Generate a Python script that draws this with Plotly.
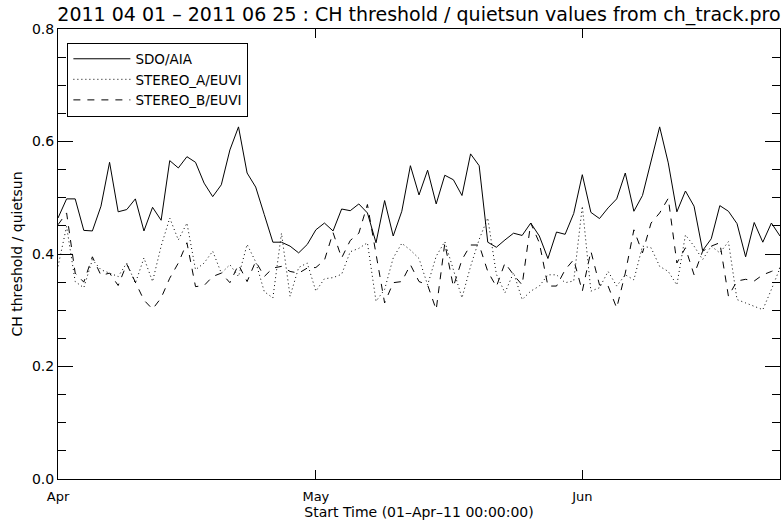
import pandas as pd
import plotly.graph_objects as go

start_date = "2011-04-01"
n_days = 85

sdo_aia = [0.464, 0.498, 0.498, 0.442, 0.441, 0.485, 0.563, 0.475, 0.479, 0.498,
           0.441, 0.483, 0.460, 0.566, 0.553, 0.573, 0.563, 0.526, 0.502, 0.523,
           0.585, 0.626, 0.544, 0.519, 0.470, 0.421, 0.421, 0.414, 0.402, 0.417,
           0.443, 0.455, 0.441, 0.480, 0.477, 0.489, 0.473, 0.420, 0.495, 0.432,
           0.476, 0.557, 0.505, 0.549, 0.489, 0.540, 0.532, 0.504, 0.578, 0.557,
           0.421, 0.412, 0.425, 0.437, 0.433, 0.455, 0.432, 0.392, 0.439, 0.435,
           0.472, 0.541, 0.474, 0.463, 0.482, 0.498, 0.544, 0.476, 0.504, 0.564,
           0.626, 0.562, 0.475, 0.512, 0.485, 0.406, 0.427, 0.486, 0.476, 0.454,
           0.395, 0.456, 0.421, 0.455, 0.432]

stereo_a = [0.378, 0.449, 0.351, 0.340, 0.390, 0.372, 0.366, 0.360, 0.384, 0.348,
            0.393, 0.351, 0.414, 0.464, 0.425, 0.455, 0.372, 0.384, 0.405, 0.366,
            0.381, 0.360, 0.417, 0.386, 0.333, 0.322, 0.437, 0.325, 0.376, 0.384,
            0.334, 0.356, 0.358, 0.364, 0.404, 0.410, 0.420, 0.316, 0.337, 0.393,
            0.419, 0.407, 0.392, 0.345, 0.396, 0.422, 0.372, 0.322, 0.378, 0.426,
            0.464, 0.364, 0.331, 0.367, 0.319, 0.334, 0.343, 0.363, 0.363, 0.349,
            0.352, 0.485, 0.334, 0.340, 0.369, 0.343, 0.363, 0.354, 0.414, 0.411,
            0.378, 0.369, 0.345, 0.434, 0.414, 0.390, 0.414, 0.402, 0.422, 0.319,
            0.313, 0.307, 0.301, 0.337, 0.375]

stereo_b = [0.452, 0.473, 0.366, 0.350, 0.395, 0.362, 0.366, 0.344, 0.382, 0.351,
            0.318, 0.302, 0.322, 0.357, 0.384, 0.420, 0.342, 0.344, 0.360, 0.366,
            0.349, 0.381, 0.351, 0.387, 0.360, 0.375, 0.378, 0.369, 0.366, 0.375,
            0.376, 0.389, 0.438, 0.393, 0.424, 0.437, 0.488, 0.400, 0.313, 0.349,
            0.351, 0.381, 0.351, 0.345, 0.301, 0.419, 0.342, 0.390, 0.416, 0.416,
            0.369, 0.342, 0.384, 0.363, 0.345, 0.455, 0.420, 0.343, 0.343, 0.372,
            0.390, 0.334, 0.405, 0.345, 0.343, 0.304, 0.366, 0.443, 0.402, 0.455,
            0.473, 0.499, 0.384, 0.411, 0.363, 0.405, 0.414, 0.420, 0.325, 0.352,
            0.355, 0.352, 0.363, 0.369, 0.375]

series_names = ["SDO/AIA", "STEREO_A/EUVI", "STEREO_B/EUVI"]
month_ticks = ["2011-04-01", "2011-05-01", "2011-06-01"]
month_labels = ["Apr", "May", "Jun"]
x_range = ["2011-04-01", "2011-06-24"]

dates = pd.date_range(start_date, periods=n_days, freq="D")

FONT = "DejaVu Sans"
fig = go.Figure()
styles = ["solid", "1px,3px", "7px,7px"]
for name, vals, dash in zip(series_names, [sdo_aia, stereo_a, stereo_b], styles):
    fig.add_trace(go.Scatter(x=dates, y=vals, mode="lines", name=name,
                             line=dict(color="black", width=1, dash=dash)))

fig.update_layout(
    width=782, height=521,
    margin=dict(l=58, r=2, t=29, b=42, autoexpand=False),
    paper_bgcolor="white", plot_bgcolor="white",
    font=dict(family=FONT, size=14, color="black"),
    title=dict(text="2011 04 01 \u2013 2011 06 25 : CH threshold / quietsun values from ch_track.pro",
               x=0.5, xref="paper", xanchor="center",
               y=1 - 14 / 521, yref="container", yanchor="middle",
               font=dict(family=FONT, size=19, color="black")),
    showlegend=True,
    legend=dict(x=0.013, y=0.97, xanchor="left", yanchor="top",
                bgcolor="white", bordercolor="black", borderwidth=1,
                font=dict(family=FONT, size=13.5, color="black"),
                tracegroupgap=0, itemwidth=57),
)

fig.update_xaxes(
    type="date", range=x_range, automargin=False,
    tickmode="array", tickvals=month_ticks, ticktext=month_labels,
    ticks="inside", ticklen=9, tickwidth=1, tickcolor="black",
    showline=True, linecolor="black", linewidth=1, mirror="ticks",
    showgrid=False, zeroline=False, ticklabelstandoff=5,
    tickfont=dict(family=FONT, size=13),
    title=dict(text="Start Time (01\u2013Apr\u201311 00:00:00)",
               font=dict(family=FONT, size=14), standoff=0),
)

fig.update_yaxes(
    range=[0, 0.8], tickmode="linear", tick0=0, dtick=0.2, tickformat=".1f",
    automargin=False,
    ticks="inside", ticklen=15, tickwidth=1, tickcolor="black",
    minor=dict(dtick=0.05, ticks="inside", ticklen=8, tickwidth=1, tickcolor="black", showgrid=False),
    showline=True, linecolor="black", linewidth=1, mirror="ticks",
    showgrid=False, zeroline=False,
    tickfont=dict(family=FONT, size=14),
    title=dict(text="CH threshold / quietsun", font=dict(family=FONT, size=14), standoff=6),
)

fig.write_html("out.html", config={"displayModeBar": False},
               post_script="document.body.style.margin='0px';")
